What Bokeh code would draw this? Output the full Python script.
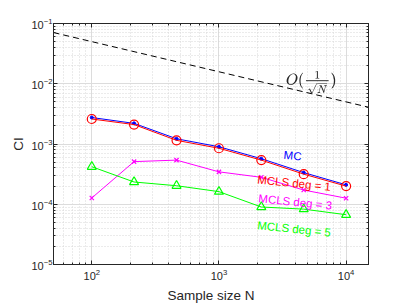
import numpy as np
from bokeh.plotting import figure
from bokeh.models import LogAxis, Label, CustomJSTickFormatter, TeX
from bokeh.embed import file_html
from bokeh.resources import INLINE

# ---- data ----
N = [100, 215, 464, 1000, 2154, 4642, 10000]
ci_mc = [2.75e-3, 2.2e-3, 1.22e-3, 9.0e-4, 5.7e-4, 3.35e-4, 2.1e-4]
ci_deg1 = [2.6e-3, 2.1e-3, 1.15e-3, 8.5e-4, 5.4e-4, 3.16e-4, 2.0e-4]
ci_deg3 = [1.27e-4, 5.1e-4, 5.4e-4, 3.45e-4, 2.8e-4, 1.72e-4, 1.26e-4]
ci_deg5 = [4.2e-4, 2.34e-4, 2.03e-4, 1.62e-4, 9.0e-5, 8.3e-5, 6.7e-5]
ref_N = [50, 15000]
ref_const = 0.5
ref_ci = [ref_const / np.sqrt(n) for n in ref_N]

FONT = "Liberation Sans"
DARK = "#262626"

p = figure(width=407, height=305, x_axis_type="log", y_axis_type="log",
           x_range=(50, 15000), y_range=(1e-5, 1e-1),
           output_backend="svg", toolbar_location=None,
           min_border_left=53, min_border_right=39,
           min_border_top=23, min_border_bottom=39)
p.background_fill_color = "white"
p.border_fill_color = "white"
p.outline_line_color = DARK
p.outline_line_width = 1

for ax in (p.xaxis[0], p.yaxis[0]):
    ax.major_tick_in = 4
    ax.major_tick_out = 0
    ax.minor_tick_in = 2
    ax.minor_tick_out = 0
    ax.axis_line_color = DARK
    ax.major_tick_line_color = DARK
    ax.minor_tick_line_color = DARK
    ax.major_label_text_font = FONT
    ax.major_label_text_font_size = "11px"
    ax.major_label_text_color = DARK
    ax.axis_label_text_font = FONT
    ax.axis_label_text_font_size = "13.5px"
    ax.axis_label_text_font_style = "normal"
    ax.axis_label_text_color = DARK
    ax.ticker.num_minor_ticks = 10

p.xaxis.axis_label = "Sample size N"
p.yaxis.axis_label = "CI"
p.xaxis.major_label_standoff = 4
p.yaxis.major_label_standoff = 1
p.xaxis.axis_label_standoff = 5
p.yaxis.axis_label_standoff = 2

for side in ("above", "right"):
    ax = LogAxis()
    ax.major_tick_in = 4
    ax.major_tick_out = 0
    ax.minor_tick_in = 2
    ax.minor_tick_out = 0
    ax.axis_line_color = DARK
    ax.major_tick_line_color = DARK
    ax.minor_tick_line_color = DARK
    ax.formatter = CustomJSTickFormatter(code="return ' ';")
    ax.major_label_text_font_size = "1px"
    ax.major_label_text_color = None
    ax.major_label_standoff = 0
    ax.ticker.num_minor_ticks = 10
    p.add_layout(ax, side)

p.grid.grid_line_color = "#dcdcdc"
p.grid.minor_grid_line_color = "#d6d6d6"
p.grid.minor_grid_line_dash = "1 2"

# reference O(1/sqrt(N))
p.line(ref_N, ref_ci, line_color="black", line_dash="6 4", line_width=1)

# MC
p.line(N, ci_mc, line_color="#0000ff", line_width=1)
p.scatter(N, ci_mc, marker="circle", size=3, fill_color="#0000ff", line_color="#0000ff")
# MCLS deg 1
p.line(N, ci_deg1, line_color="#ff0000", line_width=1)
p.scatter(N, ci_deg1, marker="circle", size=9, fill_color=None, line_color="#ff0000", line_width=1.2)
# MCLS deg 3
p.line(N, ci_deg3, line_color="#ff00ff", line_width=1)
p.scatter(N, ci_deg3, marker="x", size=6, line_color="#ff00ff", line_width=1.2)
# MCLS deg 5
p.line(N, ci_deg5, line_color="#00ff00", line_width=1)
p.scatter(N, ci_deg5, marker="triangle", size=9, fill_color=None, line_color="#00ff00", line_width=1.2)

labels = [
    ("MC", 3800, 6.4e-4, "#0000ff", -0.1),
    ("MCLS deg = 1", 3900, 2.24e-4, "#ff0000", -0.1),
    ("MCLS deg = 3", 3980, 1.09e-4, "#ff00ff", -0.1),
    ("MCLS deg = 5", 3900, 3.9e-5, "#00ff00", -0.1),
]
for t, x, y, c, a in labels:
    p.add_layout(Label(x=x, y=y, text=t, text_color=c, angle=a,
                       text_font=FONT, text_font_size="11.5px",
                       text_align="center", text_baseline="middle"))

p.add_layout(Label(x=5320, y=0.0105,
                   text=TeX(text=r"O(\tfrac{1}{\sqrt{N}})", inline=True),
                   text_color=DARK, text_font_size="12px",
                   text_align="center", text_baseline="middle"))

open("out.html", "w").write(file_html(p, INLINE))
